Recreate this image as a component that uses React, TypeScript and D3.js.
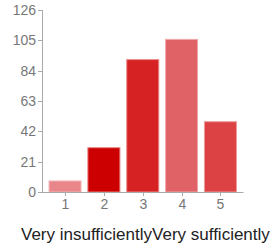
import React from "react";
import * as d3 from "d3";

const categories = ["1", "2", "3", "4", "5"];
const values = [8, 31, 92, 106, 49];
const barColors = ["#e8868a", "#cc0000", "#d62222", "#e06266", "#dc4244"];
const strokeColors = ["#f2b8ba", "#e88080", "#ea8a8a", "#f0a8aa", "#ee9a9a"];
const yTicks = [0, 21, 42, 63, 84, 105, 126];
const endLabels = ["Very insufficiently", "Very sufficiently"];

const W = 276;
const H = 245;
const left = 42;
const right = 243.5;
const top = 10;
const bottom = 192;

export default function App() {
  const x = d3
    .scaleBand<string>()
    .domain(categories)
    .range([left, right])
    .paddingInner(0.15)
    .paddingOuter(0.168);
  const y = d3.scaleLinear().domain([0, 126]).range([bottom, top]);
  const font = "'Liberation Sans', Arial, sans-serif";

  return (
    <svg
      width={W}
      height={H}
      style={{ position: "fixed", left: 0, top: 0, background: "#fff" }}
      fontFamily={font}
    >
      {/* y axis */}
      <line x1={left + 0.5} x2={left + 0.5} y1={top} y2={bottom} stroke="#aaa" />
      {yTicks.map((t) => (
        <g key={t}>
          <line x1={left - 4} x2={left} y1={Math.round(y(t)) + 0.5} y2={Math.round(y(t)) + 0.5} stroke="#aaa" />
          <text x={left - 6} y={y(t)} dy="0.35em" textAnchor="end" fontSize={14} fill="#777">
            {t}
          </text>
        </g>
      ))}
      {/* bars */}
      {values.map((v, i) => (
        <rect
          key={i}
          x={(x(categories[i]) as number) + 0.5}
          y={y(v) + 0.5}
          width={x.bandwidth() - 1}
          height={bottom - y(v) - 0.5}
          fill={barColors[i]}
          stroke={strokeColors[i]}
          strokeWidth={1}
        />
      ))}
      {/* x axis */}
      <line x1={left} x2={right} y1={bottom + 0.5} y2={bottom + 0.5} stroke="#aaa" />
      {categories.map((c) => {
        const cx = Math.round((x(c) as number) + x.bandwidth() / 2) + 0.5;
        return (
          <g key={c}>
            <line x1={cx} x2={cx} y1={bottom} y2={bottom + 4} stroke="#aaa" />
            <text x={cx} y={209} textAnchor="middle" fontSize={14} fill="#777">
              {c}
            </text>
          </g>
        );
      })}
      <text x={21} y={240} fontSize={17} fill="#222">
        <tspan>{endLabels[0]}</tspan>
        <tspan>{endLabels[1]}</tspan>
      </text>
    </svg>
  );
}
